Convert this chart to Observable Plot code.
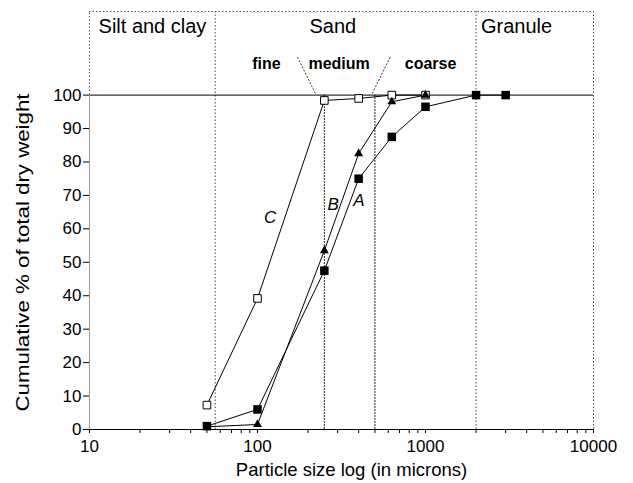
<!DOCTYPE html>
<html>
<head>
<meta charset="utf-8">
<script src="https://cdn.jsdelivr.net/npm/d3@7"></script>
<script src="https://cdn.jsdelivr.net/npm/@observablehq/plot@0.6"></script>
<style>
  html, body { margin: 0; padding: 0; background: white; }
</style>
</head>
<body>
<div id="chart"></div>
<script>
// Particle size (microns) and cumulative % of total dry weight
const sizesA = [50, 100, 250, 400, 630, 1000, 2000, 3000];
const valuesA = [1, 6, 47.5, 75, 87.5, 96.5, 100, 100];
const sizesB = [50, 100, 250, 400, 630, 1000];
const valuesB = [0.8, 1.5, 53.5, 82.5, 98, 100];
const sizesC = [50, 100, 250, 400, 630, 1000];
const valuesC = [7.3, 39.2, 98.4, 99, 100, 100];

// axis ticks
const yTicks = [0, 10, 20, 30, 40, 50, 60, 70, 80, 90, 100];
const xMajorTicks = [10, 100, 1000, 10000];
const xMinorTicks = [20, 30, 40, 50, 60, 70, 80, 90, 200, 300, 400, 500, 600, 700, 800, 900, 2000, 3000, 4000, 5000, 6000, 7000, 8000, 9000];

// grain-size classes
const classBounds = [56, 2000, 10000];
const classNames = ["Silt and clay", "Sand", "Granule"];
const classLabelX = [23.7, 281, 3483];
const sandBounds = [250, 500];
const sandNames = ["fine", "medium", "coarse"];
const sandLabelX = [113, 306, 1072];
const sandSlantX1 = [221, 482];
const sandSlantX2 = [172, 620];

// curve labels
const curveNames = ["C", "B", "A"];
const curveLabelX = [119, 282, 401];
const curveLabelY = [63.3, 67.4, 68.6];

const rows = [
  ...sizesA.map((s, i) => ({series: "A", size: s, value: valuesA[i]})),
  ...sizesB.map((s, i) => ({series: "B", size: s, value: valuesB[i]})),
  ...sizesC.map((s, i) => ({series: "C", size: s, value: valuesC[i]}))
];
const slants = sandSlantX1.map((x, i) => ({x1: x, y1: 100.5, x2: sandSlantX2[i], y2: 111.6}));
const dotted = "1.5,2";

const chart = Plot.plot({
  width: 633,
  height: 483,
  marginLeft: 89,
  marginRight: 40,
  marginTop: 11,
  marginBottom: 54,
  style: {fontFamily: "'Liberation Sans', Arial, sans-serif", fontSize: "16px", color: "black", background: "white"},
  x: {type: "log", domain: [10, 10000]},
  y: {domain: [0, 125]},
  marks: [
    // frame & class boundaries
    Plot.ruleY([125], {x1: 10, x2: 10000, stroke: "#555", strokeDasharray: dotted}),
    Plot.ruleX([10], {y1: 100, y2: 125, stroke: "#555", strokeDasharray: dotted}),
    Plot.ruleX(classBounds, {y1: 0, y2: 125, stroke: "#444", strokeDasharray: dotted}),
    Plot.ruleX(sandBounds, {y1: 0, y2: 100, stroke: "#222", strokeDasharray: "2,1"}),
    Plot.link(slants, {x1: "x1", y1: "y1", x2: "x2", y2: "y2", stroke: "#333", strokeDasharray: "2,1.5"}),
    Plot.ruleY([100], {stroke: "black", strokeWidth: 1}),
    Plot.ruleX([10], {y1: 0, y2: 100, stroke: "#999"}),
    Plot.ruleY([0], {x1: 10, x2: 10000, stroke: "black"}),
    // axes
    Plot.axisY({ticks: yTicks, tickSize: 6, tickPadding: 2, fontSize: 17, label: null}),
    Plot.axisX({ticks: xMajorTicks, tickSize: 4, tickPadding: 6, tickFormat: d => String(d), fontSize: 17, label: null}),
    Plot.axisX({ticks: xMinorTicks, tickSize: 4, tickFormat: () => "", label: null}),
    // class labels
    Plot.text(classNames, {x: (d, i) => classLabelX[i], y: 120.4, text: d => d, textAnchor: "middle", fontSize: 20}),
    Plot.text(sandNames, {x: (d, i) => sandLabelX[i], y: 109.4, text: d => d, fontSize: 16, fontWeight: "bold"}),
    // data
    Plot.line(rows, {x: "size", y: "value", z: "series", stroke: "black", strokeWidth: 1}),
    Plot.dot(rows.filter(d => d.series === "C"), {x: "size", y: "value", symbol: "square", r: 4.3, fill: "white", stroke: "black", strokeWidth: 1}),
    Plot.dot(rows.filter(d => d.series === "B"), {x: "size", y: "value", symbol: "triangle", r: 3.3, fill: "black"}),
    Plot.dot(rows.filter(d => d.series === "A"), {x: "size", y: "value", symbol: "square", r: 4.8, fill: "black"}),
    Plot.text(curveNames, {x: (d, i) => curveLabelX[i], y: (d, i) => curveLabelY[i], text: d => d, fontStyle: "italic", fontSize: 17}),
    // axis titles
    Plot.text(["Cumulative % of total dry weight"], {frameAnchor: "left", textAnchor: "middle", lineAnchor: "middle", rotate: -90, dx: -66, dy: 32, fontSize: 18, className: "ylab"}),
    Plot.text(["Particle size log (in microns)"], {frameAnchor: "bottom", textAnchor: "middle", lineAnchor: "middle", dx: 10, dy: 41, fontSize: 18.5})
  ]
});
document.getElementById("chart").appendChild(chart);
d3.select(chart).selectAll(".ylab text").attr("textLength", 318).attr("lengthAdjust", "spacingAndGlyphs");
</script>
</body>
</html>
